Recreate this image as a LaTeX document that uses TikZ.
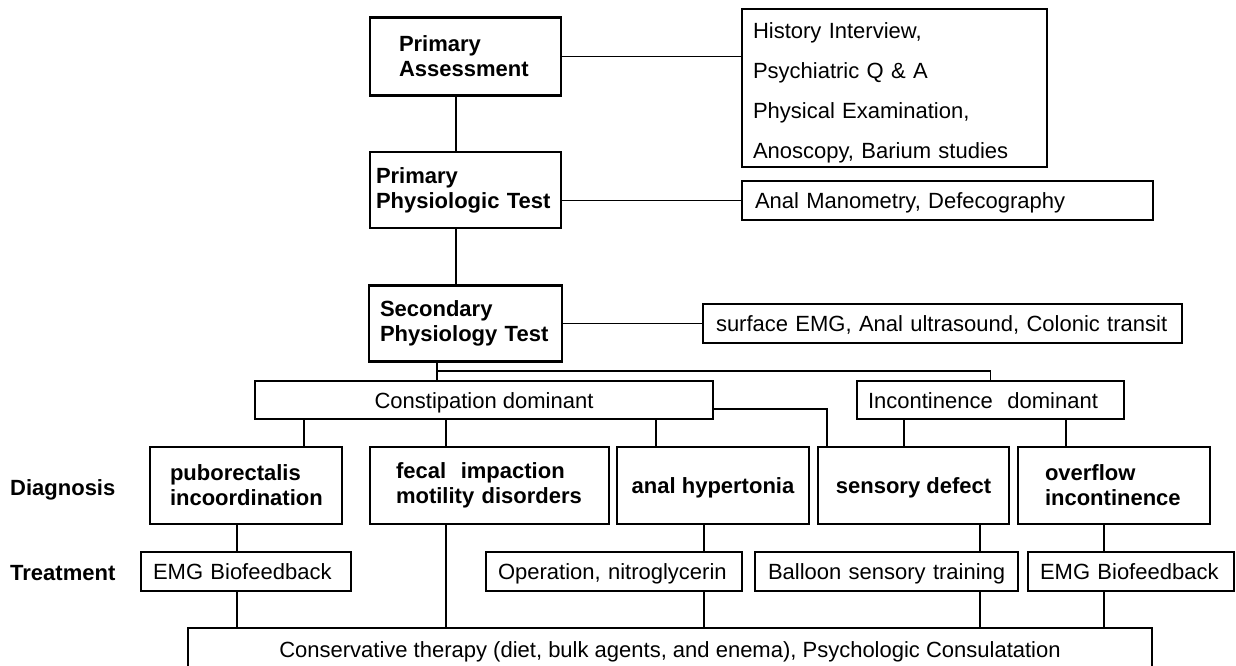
\documentclass[tikz,border=0pt]{standalone}
\usepackage{fontspec}
\setmainfont{Liberation Sans}
\begin{document}
\begin{tikzpicture}[x=1pt,y=-1pt,
  base/.style={draw, rectangle, inner ysep=0pt, font=\fontsize{22}{25}\selectfont},
  thickbox/.style={base, line width=2.2pt, font=\fontsize{22}{25}\selectfont\bfseries},
  thinbox/.style={base, line width=1.2pt},
  one/.style={text height=18pt, text depth=2pt},
  lpad/.style 2 args={text width=#1, inner xsep=#2, align=left},
  cbox/.style={minimum width=#1, align=center},
  conn/.style={line width=1.2pt},
  bus/.style={line width=1.8pt},
  lab/.style={anchor=base west, inner sep=0pt, font=\fontsize{22}{25}\selectfont\bfseries}]
\useasboundingbox (0,0) rectangle (1236,666);
% top column
\node[thickbox, lpad={133pt}{29pt}, minimum height=78pt] (pa) at (465.5,56.5) {Primary\\Assessment};
\node[thinbox, lpad={283pt}{11pt}, minimum height=158pt, font=\fontsize{22}{40}\selectfont] (hist) at (894.5,88)
  {\rule{0pt}{26pt}History Interview,\\Psychiatric Q \& A\\Physical Examination,\\Anoscopy, Barium studies};
\node[thickbox, lpad={179pt}{6pt}, minimum height=76pt] (ppt) at (465.5,190) {Primary\\\mbox{Physiologic Test}};
\node[thinbox, one, lpad={385pt}{13pt}, minimum height=39pt] (am) at (947.5,200.5) {\mbox{Anal Manometry, Defecography}};
\node[thickbox, lpad={171pt}{11pt}, minimum height=76pt] (spt) at (465.5,323.5) {Secondary\\\mbox{Physiology Test}};
\node[thinbox, one, lpad={453pt}{13pt}, minimum height=39pt] (surf) at (942.5,323.5) {\mbox{surface EMG, Anal ultrasound, Colonic transit}};
% dominance
\node[thinbox, one, cbox=458pt, minimum height=38pt] (con) at (484,400) {Constipation dominant};
\node[thinbox, one, lpad={245pt}{11pt}, minimum height=38pt] (inc) at (990.5,400) {\mbox{Incontinence\ \ dominant}};
% diagnosis
\node[thickbox, lpad={152pt}{20pt}, minimum height=77pt] (pub) at (246,485.5) {puborectalis\\\mbox{incoordination}};
\node[thickbox, lpad={187pt}{26pt}, minimum height=77pt] (fec) at (489.5,485.5) {\mbox{fecal\ \ impaction}\\\mbox{motility disorders}};
\node[thickbox, one, cbox=192pt, minimum height=77pt] (anh) at (713,485.5) {anal hypertonia};
\node[thickbox, one, cbox=191pt, minimum height=77pt] (sen) at (913.5,485.5) {sensory defect};
\node[thickbox, lpad={138pt}{27pt}, minimum height=77pt] (ovf) at (1114,485.5) {overflow\\\mbox{incontinence}};
% treatment
\node[thinbox, one, lpad={186pt}{12pt}, minimum height=39pt] (emga) at (246,571.5) {\mbox{EMG Biofeedback}};
\node[thinbox, one, lpad={232pt}{12pt}, minimum height=39pt] (op) at (614,571.5) {\mbox{Operation, nitroglycerin}};
\node[thinbox, one, lpad={237pt}{13pt}, minimum height=39pt] (bal) at (886.5,571.5) {\mbox{Balloon sensory training}};
\node[thinbox, one, lpad={182pt}{12pt}, minimum height=39pt] (emgb) at (1131,571.5) {\mbox{EMG Biofeedback}};
\node[thinbox, one, cbox=964pt, minimum height=42pt] (cons) at (670,649)
  {Conservative therapy (diet, bulk agents, and enema), Psychologic Consulatation};
% labels
\node[lab] (diag) at (10,495) {Diagnosis};
\node[lab] (treat) at (10,580) {Treatment};
% connectors top
\coordinate (cx) at (456,0);
\draw[conn] (pa.east) -- (hist.west |- pa.east);
\draw[conn] (pa.south -| cx) -- (ppt.north -| cx);
\draw[conn] (ppt.east |- am.west) -- (am.west);
\draw[conn] (ppt.south -| cx) -- (spt.north -| cx);
\draw[conn] (spt.east) -- (surf.west);
% bus
\coordinate (bus) at (437,371);
\draw[bus] (spt.south -| bus) -- (con.north -| bus);
\draw[bus] (bus) -| (inc.north);
% constipation to sensory
\coordinate (cs) at (827,409);
\draw[conn] (con.east |- cs) -| (sen.north -| cs);
% dominance to diagnosis
\coordinate (d1) at (304,0);
\coordinate (d2) at (446,0);
\coordinate (d3) at (656,0);
\coordinate (d4) at (904,0);
\coordinate (d5) at (1066,0);
\draw[conn] (con.south -| d1) -- (pub.north -| d1);
\draw[conn] (con.south -| d2) -- (fec.north -| d2);
\draw[conn] (con.south -| d3) -- (anh.north -| d3);
\draw[conn] (inc.south -| d4) -- (sen.north -| d4);
\draw[conn] (inc.south -| d5) -- (ovf.north -| d5);
% diagnosis to treatment
\coordinate (t1) at (237,0);
\coordinate (t3) at (704,0);
\coordinate (t4) at (980,0);
\coordinate (t5) at (1104,0);
\draw[conn] (pub.south -| t1) -- (emga.north -| t1);
\draw[conn] (anh.south -| t3) -- (op.north -| t3);
\draw[conn] (sen.south -| t4) -- (bal.north -| t4);
\draw[conn] (ovf.south -| t5) -- (emgb.north -| t5);
% treatment to conservative
\draw[conn] (emga.south -| t1) -- (cons.north -| t1);
\draw[conn] (fec.south -| d2) -- (cons.north -| d2);
\draw[conn] (op.south -| t3) -- (cons.north -| t3);
\draw[conn] (bal.south -| t4) -- (cons.north -| t4);
\draw[conn] (emgb.south -| t5) -- (cons.north -| t5);
\end{tikzpicture}
\end{document}
